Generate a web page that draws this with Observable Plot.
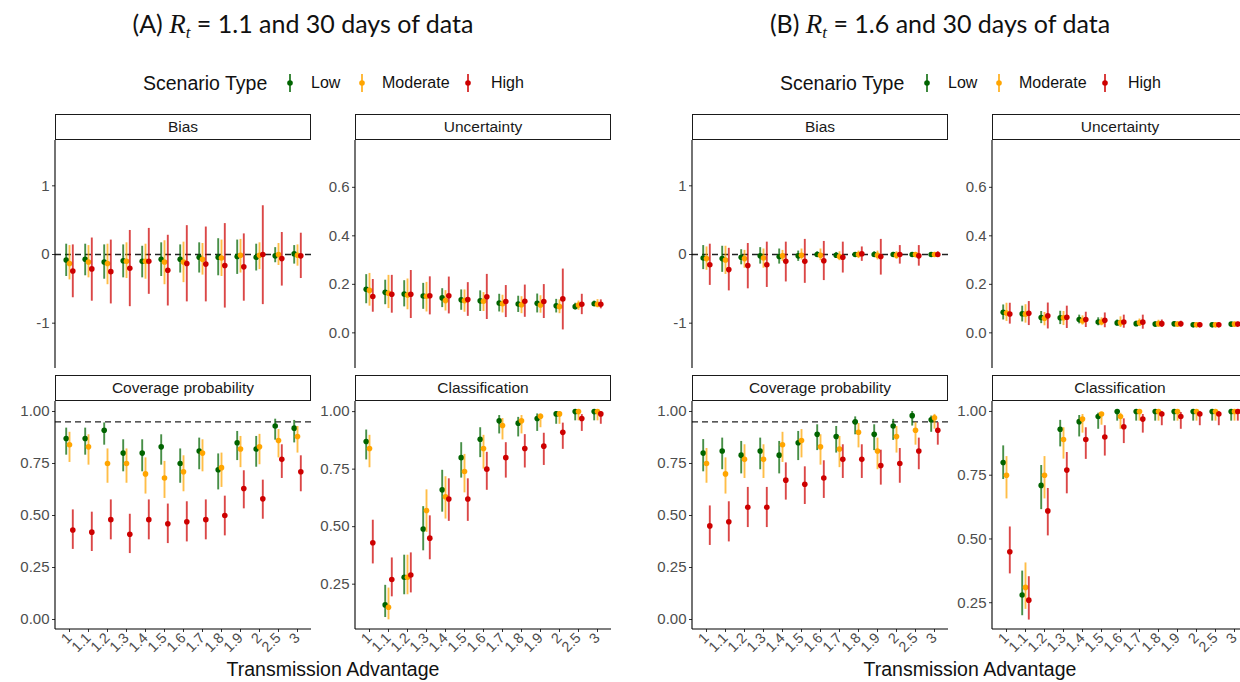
<!DOCTYPE html>
<html><head><meta charset="utf-8">
<script src="https://cdn.jsdelivr.net/npm/d3@7"></script>
<script src="https://cdn.jsdelivr.net/npm/@observablehq/plot@0.6"></script>
<style>
body{margin:0;background:#fff;}
#root{position:relative;width:1240px;height:682px;overflow:hidden;background:#fff;font-family:"Liberation Sans",Arial,sans-serif;}
.abs{position:absolute;white-space:nowrap;}
.strip{position:absolute;box-sizing:border-box;border:1px solid #1a1a1a;background:#fff;text-align:center;font-size:15.5px;color:#1a1a1a;line-height:24px;}
.title{position:absolute;width:600px;text-align:center;font-family:Lato,"Open Sans",sans-serif;font-size:25px;color:#111;}
.title .math{font-family:"Liberation Serif","DejaVu Serif",serif;font-style:italic;font-size:27px;}
.title sub{font-size:17px;vertical-align:-5px;}
.legtitle{font-size:19.5px;color:#111;}
.legtext{font-size:16px;color:#111;}
.axtitle{font-size:19.5px;color:#111;width:400px;text-align:center;}
svg{overflow:visible;}
</style></head><body><div id="root"></div><script>
// ---------- data ----------
const categories = ["1","1.1","1.2","1.3","1.4","1.5","1.6","1.7","1.8","1.9","2","2.5","3"];
const scenarioTypes = ["Low","Moderate","High"];
const scenarioColors = ["#006400","#FFA500","#CD0000"];
const panelTitles = ["Bias","Uncertainty","Coverage probability","Classification"];
const halfTitles = [["(A) ","= 1.1 and 30 days of data"],["(B) ","= 1.6 and 30 days of data"]];
const xAxisTitle = "Transmission Advantage";
const legendTitle = "Scenario Type";

// each row: [estimate, lower, upper], one row per category
const A_bias_low = [[-0.08,-0.32,0.15],[-0.07,-0.31,0.15],[-0.11,-0.36,0.14],[-0.09,-0.34,0.14],[-0.10,-0.34,0.12],[-0.07,-0.32,0.17],[-0.07,-0.27,0.14],[-0.04,-0.27,0.17],[-0.04,-0.31,0.23],[-0.03,-0.29,0.21],[-0.04,-0.24,0.15],[-0.02,-0.12,0.10],[0.01,-0.14,0.13]];
const A_bias_mod = [[-0.13,-0.37,0.13],[-0.11,-0.34,0.13],[-0.13,-0.44,0.15],[-0.10,-0.35,0.17],[-0.10,-0.36,0.15],[-0.11,-0.44,0.20],[-0.11,-0.41,0.18],[-0.07,-0.30,0.16],[-0.05,-0.32,0.21],[-0.01,-0.27,0.22],[-0.01,-0.22,0.17],[0.00,-0.16,0.16],[-0.01,-0.17,0.14]];
const A_bias_high = [[-0.24,-0.63,0.14],[-0.21,-0.68,0.24],[-0.25,-0.72,0.21],[-0.20,-0.76,0.35],[-0.10,-0.58,0.38],[-0.23,-0.75,0.28],[-0.13,-0.69,0.42],[-0.14,-0.69,0.40],[-0.16,-0.78,0.45],[-0.18,-0.68,0.30],[0.00,-0.73,0.71],[-0.06,-0.46,0.32],[-0.02,-0.35,0.31]];

const A_unc_low = [[0.180,0.120,0.240],[0.167,0.116,0.217],[0.160,0.107,0.215],[0.152,0.097,0.204],[0.144,0.104,0.182],[0.136,0.093,0.177],[0.132,0.088,0.173],[0.123,0.086,0.159],[0.119,0.084,0.151],[0.122,0.082,0.160],[0.112,0.082,0.138],[0.108,0.095,0.122],[0.120,0.110,0.131]];
const A_unc_mod = [[0.175,0.110,0.245],[0.163,0.100,0.237],[0.156,0.095,0.222],[0.151,0.086,0.208],[0.133,0.090,0.174],[0.133,0.085,0.177],[0.130,0.088,0.166],[0.120,0.082,0.155],[0.116,0.079,0.149],[0.115,0.081,0.153],[0.108,0.079,0.136],[0.115,0.093,0.131],[0.118,0.103,0.137]];
const A_unc_high = [[0.150,0.085,0.220],[0.159,0.081,0.237],[0.159,0.059,0.257],[0.153,0.074,0.231],[0.153,0.078,0.230],[0.137,0.068,0.207],[0.149,0.055,0.241],[0.129,0.063,0.195],[0.130,0.064,0.197],[0.129,0.059,0.199],[0.140,0.012,0.263],[0.118,0.075,0.159],[0.118,0.099,0.136]];

const A_cov_low = [[0.87,0.79,0.92],[0.87,0.79,0.92],[0.91,0.838,0.945],[0.80,0.71,0.864],[0.80,0.71,0.864],[0.83,0.742,0.888],[0.75,0.655,0.82],[0.81,0.72,0.872],[0.72,0.623,0.796],[0.85,0.764,0.904],[0.82,0.732,0.88],[0.93,0.862,0.963],[0.92,0.849,0.957]];
const A_cov_mod = [[0.84,0.755,0.90],[0.83,0.742,0.888],[0.75,0.655,0.82],[0.75,0.655,0.82],[0.70,0.603,0.777],[0.68,0.582,0.76],[0.71,0.614,0.787],[0.80,0.71,0.864],[0.73,0.635,0.80],[0.82,0.73,0.88],[0.83,0.744,0.89],[0.86,0.777,0.913],[0.88,0.80,0.928]];
const A_cov_high = [[0.43,0.337,0.527],[0.42,0.327,0.516],[0.48,0.383,0.575],[0.41,0.317,0.506],[0.48,0.383,0.575],[0.46,0.365,0.555],[0.47,0.373,0.566],[0.48,0.383,0.575],[0.50,0.402,0.593],[0.63,0.532,0.715],[0.58,0.482,0.67],[0.77,0.678,0.84],[0.71,0.614,0.787]];

const A_cls_low = [[0.87,0.79,0.92],[0.16,0.105,0.245],[0.28,0.204,0.376],[0.49,0.395,0.587],[0.66,0.563,0.745],[0.80,0.711,0.865],[0.88,0.80,0.93],[0.96,0.903,0.983],[0.95,0.89,0.975],[0.97,0.914,0.99],[0.99,0.945,1.0],[1.0,0.96,1.0],[1.0,0.96,1.0]];
const A_cls_mod = [[0.84,0.756,0.897],[0.15,0.095,0.233],[0.28,0.204,0.376],[0.57,0.475,0.66],[0.63,0.533,0.717],[0.74,0.647,0.814],[0.84,0.75,0.897],[0.94,0.877,0.97],[0.96,0.903,0.983],[0.98,0.93,0.99],[0.99,0.945,1.0],[1.0,0.96,1.0],[1.0,0.96,1.0]];
const A_cls_high = [[0.43,0.338,0.528],[0.27,0.195,0.364],[0.29,0.212,0.386],[0.45,0.356,0.547],[0.62,0.523,0.708],[0.62,0.523,0.708],[0.75,0.658,0.823],[0.80,0.711,0.865],[0.84,0.755,0.90],[0.85,0.766,0.906],[0.91,0.836,0.95],[0.97,0.914,0.987],[0.99,0.945,1.0]];

const B_bias_low = [[-0.05,-0.22,0.13],[-0.06,-0.26,0.12],[-0.04,-0.15,0.07],[-0.02,-0.14,0.10],[-0.03,-0.14,0.08],[-0.02,-0.10,0.05],[0.00,-0.04,0.04],[-0.01,-0.04,0.03],[0.00,-0.02,0.02],[0.00,-0.04,0.04],[0.00,-0.03,0.03],[0.00,-0.02,0.02],[0.00,-0.02,0.01]];
const B_bias_mod = [[-0.06,-0.23,0.11],[-0.08,-0.29,0.12],[-0.06,-0.20,0.06],[-0.05,-0.20,0.08],[-0.02,-0.10,0.06],[-0.01,-0.08,0.08],[-0.01,-0.09,0.08],[-0.03,-0.09,0.04],[0.00,-0.06,0.05],[-0.01,-0.08,0.05],[-0.01,-0.07,0.04],[0.00,-0.05,0.03],[0.00,-0.04,0.03]];
const B_bias_high = [[-0.15,-0.45,0.15],[-0.22,-0.53,0.09],[-0.16,-0.50,0.16],[-0.15,-0.48,0.18],[-0.10,-0.40,0.18],[-0.10,-0.42,0.22],[-0.09,-0.38,0.19],[-0.04,-0.27,0.18],[0.01,-0.10,0.11],[-0.03,-0.30,0.22],[0.00,-0.14,0.13],[-0.02,-0.17,0.13],[0.00,-0.03,0.04]];

const B_unc_low = [[0.085,0.053,0.115],[0.079,0.045,0.110],[0.063,0.038,0.088],[0.062,0.034,0.089],[0.055,0.037,0.073],[0.045,0.029,0.062],[0.041,0.029,0.053],[0.038,0.027,0.048],[0.036,0.026,0.045],[0.037,0.027,0.046],[0.033,0.026,0.040],[0.033,0.026,0.040],[0.036,0.028,0.043]];
const B_unc_mod = [[0.082,0.047,0.122],[0.077,0.040,0.116],[0.060,0.029,0.084],[0.062,0.030,0.088],[0.050,0.032,0.070],[0.045,0.029,0.062],[0.042,0.022,0.066],[0.042,0.026,0.057],[0.038,0.023,0.052],[0.036,0.026,0.045],[0.033,0.026,0.040],[0.033,0.026,0.040],[0.036,0.028,0.043]];
const B_unc_high = [[0.078,0.036,0.122],[0.081,0.030,0.129],[0.070,0.016,0.123],[0.064,0.018,0.110],[0.055,0.022,0.085],[0.052,0.021,0.082],[0.045,0.019,0.073],[0.044,0.015,0.073],[0.038,0.022,0.053],[0.037,0.025,0.048],[0.033,0.025,0.042],[0.033,0.026,0.041],[0.036,0.028,0.044]];

const B_cov_low = [[0.80,0.71,0.865],[0.81,0.72,0.872],[0.79,0.70,0.856],[0.81,0.72,0.872],[0.79,0.70,0.856],[0.85,0.764,0.904],[0.89,0.812,0.936],[0.88,0.80,0.928],[0.95,0.888,0.974],[0.89,0.812,0.936],[0.93,0.861,0.962],[0.98,0.93,1.0],[0.96,0.90,0.978]];
const B_cov_mod = [[0.75,0.655,0.822],[0.70,0.603,0.777],[0.77,0.678,0.84],[0.77,0.678,0.84],[0.84,0.755,0.90],[0.86,0.777,0.913],[0.83,0.742,0.888],[0.82,0.73,0.88],[0.90,0.825,0.942],[0.81,0.72,0.872],[0.88,0.80,0.928],[0.91,0.838,0.946],[0.97,0.915,0.986]];
const B_cov_high = [[0.45,0.356,0.546],[0.47,0.373,0.566],[0.54,0.442,0.635],[0.54,0.442,0.635],[0.67,0.574,0.753],[0.65,0.553,0.734],[0.68,0.582,0.763],[0.77,0.678,0.84],[0.77,0.678,0.84],[0.74,0.646,0.814],[0.75,0.655,0.822],[0.81,0.72,0.872],[0.91,0.838,0.946]];

const B_cls_low = [[0.80,0.733,0.865],[0.28,0.199,0.374],[0.71,0.615,0.788],[0.93,0.861,0.965],[0.96,0.90,0.984],[0.98,0.93,0.993],[1.0,0.962,1.0],[1.0,0.962,1.0],[1.0,0.962,1.0],[1.0,0.962,1.0],[1.0,0.962,1.0],[1.0,0.962,1.0],[1.0,0.962,1.0]];
const B_cls_mod = [[0.75,0.657,0.823],[0.31,0.224,0.406],[0.75,0.657,0.823],[0.89,0.813,0.936],[0.97,0.915,0.988],[0.99,0.946,0.996],[0.98,0.93,0.993],[1.0,0.962,1.0],[1.0,0.962,1.0],[1.0,0.962,1.0],[1.0,0.962,1.0],[1.0,0.962,1.0],[1.0,0.962,1.0]];
const B_cls_high = [[0.45,0.363,0.547],[0.26,0.182,0.352],[0.61,0.512,0.698],[0.77,0.677,0.839],[0.89,0.812,0.936],[0.90,0.825,0.944],[0.94,0.874,0.971],[0.97,0.915,0.988],[0.99,0.944,1.0],[0.98,0.93,0.996],[0.99,0.944,1.0],[0.99,0.944,1.0],[1.0,0.962,1.0]];

// axis tick values and domains
const biasTicks = [-1, 0, 1];
const uncTicks = [0, 0.2, 0.4, 0.6];
const covTicks = [0, 0.25, 0.5, 0.75, 1];
const clsTicks = [0.25, 0.5, 0.75, 1];
const biasDomain = [-1.66, 1.66];
const uncDomain = [-0.147, 0.793];
const covDomain = [-0.048, 1.048];
const clsDomainA = [0.053, 1.044];
const clsDomainB = [0.145, 1.039];
const biasRef = 0;
const covRef = 0.95;

// ---------- build ----------
const root = document.getElementById("root");
function tidy(low, mod, high) {
  const out = [];
  [low, mod, high].forEach((arr, si) => arr.forEach((v, ci) =>
    out.push({cat: categories[ci], scen: scenarioTypes[si], est: v[0], lo: v[1], hi: v[2]})));
  return out;
}
const dodge = [-3.3, 0, 3.3];
const PW = 256, PH = 228;

function panel(rows, cfg, left, top, bottomAxis) {
  const ML = 44, MT = 8, MR = 8, MB = bottomAxis ? 46 : 4;
  const marks = [];
  if (cfg.ref !== undefined) marks.push(Plot.ruleY([cfg.ref], {stroke: "#222", strokeWidth: 1.3, strokeDasharray: "6,4"}));
  scenarioTypes.forEach((s, i) => {
    const d = rows.filter(r => r.scen === s);
    marks.push(Plot.ruleX(d, {x: "cat", y1: "lo", y2: "hi", stroke: scenarioColors[i], strokeWidth: 1.9, strokeOpacity: 0.72, dx: dodge[i]}));
    marks.push(Plot.dot(d, {x: "cat", y: "est", r: 2.8, fill: scenarioColors[i], dx: dodge[i]}));
  });
  marks.push(Plot.axisY({ticks: cfg.ticks, tickFormat: cfg.fmt, tickSize: 3, tickPadding: 3, label: null, stroke: "#333", fill: "#4D4D4D", fontSize: 15}));
  if (bottomAxis) marks.push(Plot.axisX({tickRotate: -45, tickSize: 3, tickPadding: 3, label: null, stroke: "#333", fill: "#4D4D4D", fontSize: 14.5}));
  const svg = Plot.plot({
    width: ML + PW + MR, height: MT + PH + MB,
    marginLeft: ML, marginRight: MR, marginTop: MT, marginBottom: MB,
    x: {type: "point", domain: categories, padding: 0.6, axis: bottomAxis ? undefined : null},
    y: {domain: cfg.domain},
    style: {fontFamily: "Liberation Sans, Arial, sans-serif", fontSize: "15px", background: "transparent", overflow: "visible", maxWidth: "none"},
    marks
  });
  const g = d3.select(svg);
  g.append("line").attr("x1", ML).attr("x2", ML).attr("y1", MT).attr("y2", MT + PH).attr("stroke", "#000").attr("stroke-width", 1.1);
  if (bottomAxis) g.append("line").attr("x1", ML).attr("x2", ML + PW).attr("y1", MT + PH).attr("y2", MT + PH).attr("stroke", "#000").attr("stroke-width", 1.1);
  svg.style.position = "absolute";
  svg.style.left = (left - ML) + "px";
  svg.style.top = (top - MT) + "px";
  root.appendChild(svg);
}
function strip(text, left, top) {
  const d = document.createElement("div");
  d.className = "strip";
  d.style.left = left + "px"; d.style.top = top + "px";
  d.style.width = PW + "px"; d.style.height = "26px";
  d.textContent = text;
  root.appendChild(d);
}
function abs(cls, html, left, top) {
  const d = document.createElement("div");
  d.className = "abs " + cls;
  d.style.left = left + "px"; d.style.top = top + "px";
  d.innerHTML = html;
  root.appendChild(d);
  return d;
}
function keySvg(color) {
  return `<svg width="20" height="22" style="display:block"><line x1="10" x2="10" y1="2" y2="20" stroke="${color}" stroke-width="1.9" stroke-opacity="0.8"/><circle cx="10" cy="11" r="2.8" fill="${color}"/></svg>`;
}

const halves = [
  {ox: 0, sets: [tidy(A_bias_low, A_bias_mod, A_bias_high), tidy(A_unc_low, A_unc_mod, A_unc_high), tidy(A_cov_low, A_cov_mod, A_cov_high), tidy(A_cls_low, A_cls_mod, A_cls_high)], clsDomain: clsDomainA},
  {ox: 637, sets: [tidy(B_bias_low, B_bias_mod, B_bias_high), tidy(B_unc_low, B_unc_mod, B_unc_high), tidy(B_cov_low, B_cov_mod, B_cov_high), tidy(B_cls_low, B_cls_mod, B_cls_high)], clsDomain: clsDomainB}
];
const fmtInt = d => String(d);
const fmt1 = d3.format(".1f"), fmt2 = d3.format(".2f");

halves.forEach((h, hi) => {
  const ox = h.ox;
  const t = document.createElement("div");
  t.className = "title";
  t.style.left = (303 + ox - 300) + "px"; t.style.top = "8px";
  t.innerHTML = `${halfTitles[hi][0]}<span class="math">R<sub>t</sub></span> ${halfTitles[hi][1]}`;
  root.appendChild(t);
  abs("legtitle", legendTitle, 143 + ox, 72);
  const keyX = [280, 352, 458], txtX = [311, 382, 491];
  scenarioTypes.forEach((s, i) => {
    abs("", keySvg(scenarioColors[i]), keyX[i] + ox, 72);
    abs("legtext", s, txtX[i] + ox, 74);
  });
  const cfgs = [
    {domain: biasDomain, ticks: biasTicks, fmt: fmtInt, ref: biasRef},
    {domain: uncDomain, ticks: uncTicks, fmt: fmt1},
    {domain: covDomain, ticks: covTicks, fmt: fmt2, ref: covRef},
    {domain: h.clsDomain, ticks: clsTicks, fmt: fmt2}
  ];
  const colX = [55 + ox, 355 + ox], stripY = [114, 375], plotY = [140, 401];
  for (let k = 0; k < 4; k++) {
    const c = k % 2, r = Math.floor(k / 2);
    strip(panelTitles[k], colX[c], stripY[r]);
    panel(h.sets[k], cfgs[k], colX[c], plotY[r], r === 1);
  }
  abs("axtitle", xAxisTitle, 333 + ox - 200, 658);
});
</script></body></html>
